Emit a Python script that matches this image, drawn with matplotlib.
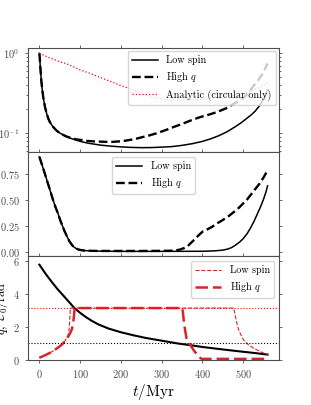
import matplotlib
matplotlib.use("Agg")
import matplotlib.pyplot as plt

plt.rcParams["font.family"] = "serif"
plt.rcParams["font.serif"] = ["cmr10", "DejaVu Serif"]
plt.rcParams["mathtext.fontset"] = "cm"
plt.rcParams["axes.formatter.use_mathtext"] = True
plt.rcParams["axes.edgecolor"] = "0.3"
plt.rcParams["xtick.color"] = "0.3"
plt.rcParams["ytick.color"] = "0.3"
plt.rcParams["xtick.labelcolor"] = "0.3"
plt.rcParams["ytick.labelcolor"] = "0.3"

RED = "#d62728"

# top panel: a / a0
t_low_a = [0, 1, 2, 3.5, 5, 7, 10, 14, 18, 22, 26, 32, 39, 45, 51, 59, 67, 78, 90,
           105, 120, 135, 150, 175, 200, 225, 250, 275, 300, 325, 350, 375, 400,
           420, 440, 460, 480, 495, 510, 520, 530, 540, 548, 555, 560]
a_low = [1.0, 0.85, 0.7, 0.55, 0.44, 0.35, 0.27, 0.21, 0.175, 0.152, 0.137, 0.123,
         0.112, 0.105, 0.1, 0.095, 0.09, 0.086, 0.082, 0.078, 0.075, 0.073, 0.071,
         0.069, 0.0675, 0.0665, 0.066, 0.0662, 0.067, 0.068, 0.0705, 0.074, 0.079,
         0.085, 0.093, 0.104, 0.12, 0.135, 0.155, 0.17, 0.19, 0.22, 0.255, 0.3, 0.35]
t_high_a = [0, 1, 2, 3.5, 5, 7, 10, 14, 18, 22, 26, 32, 39, 45, 51, 59, 67, 78, 90,
            105, 120, 135, 150, 165, 180, 195, 210, 225, 240, 255, 270, 285, 300,
            315, 330, 345, 360, 378, 396, 416, 437, 458, 478, 490, 502, 515, 527,
            537, 545, 553, 560]
a_high = [1.0, 0.85, 0.7, 0.55, 0.44, 0.35, 0.27, 0.21, 0.175, 0.152, 0.137, 0.123,
          0.112, 0.105, 0.1, 0.095, 0.091, 0.087, 0.084, 0.082, 0.08, 0.079, 0.0785,
          0.078, 0.078, 0.079, 0.0805, 0.083, 0.086, 0.09, 0.094, 0.099, 0.105,
          0.112, 0.12, 0.128, 0.137, 0.149, 0.16, 0.171, 0.185, 0.205, 0.235, 0.255,
          0.28, 0.33, 0.4, 0.46, 0.53, 0.63, 0.75]
t_analytic = [0, 10, 20, 30, 45, 56, 67, 83, 100, 125, 149, 175, 200, 231, 252, 273,
              295, 314, 338, 360, 396, 430, 460, 478, 500, 520, 544, 560]
a_analytic = [1.0, 0.95, 0.9, 0.86, 0.8, 0.77, 0.74, 0.68, 0.62, 0.56, 0.50, 0.445,
              0.395, 0.35, 0.315, 0.288, 0.272, 0.265, 0.26, 0.26, 0.265, 0.277,
              0.29, 0.30, 0.315, 0.34, 0.38, 0.43]

# middle panel: eccentricity
t_low_e = [0, 5, 10, 18, 26, 33, 40, 46, 51, 57, 62, 68, 73, 79, 84, 90, 95, 102,
           110, 130, 150, 200, 300, 400, 430, 450, 462, 472, 482, 492, 500, 510,
           519, 527, 535, 543, 550, 556, 560]
e_low = [0.92, 0.86, 0.80, 0.70, 0.60, 0.51, 0.43, 0.37, 0.31, 0.25, 0.20, 0.15,
         0.11, 0.075, 0.052, 0.036, 0.027, 0.02, 0.016, 0.012, 0.01, 0.008, 0.008,
         0.009, 0.013, 0.02, 0.03, 0.045, 0.07, 0.1, 0.13, 0.18, 0.24, 0.3, 0.37,
         0.44, 0.51, 0.58, 0.64]
t_high_e = [0, 5, 10, 18, 26, 33, 40, 46, 51, 57, 62, 68, 73, 79, 84, 90, 95, 102,
            110, 130, 150, 200, 250, 300, 330, 345, 355, 363, 372, 380, 390, 401,
            412, 424, 437, 450, 465, 478, 490, 500, 510, 519, 530, 540, 550, 560]
e_high = [0.92, 0.86, 0.80, 0.70, 0.60, 0.51, 0.43, 0.37, 0.31, 0.25, 0.20, 0.15,
          0.11, 0.075, 0.052, 0.036, 0.027, 0.02, 0.016, 0.013, 0.012, 0.012, 0.012,
          0.013, 0.015, 0.025, 0.04, 0.055, 0.09, 0.12, 0.16, 0.2, 0.22, 0.245,
          0.28, 0.31, 0.35, 0.39, 0.43, 0.47, 0.51, 0.555, 0.61, 0.66, 0.72, 0.79]

# bottom panel: q and E0
t_q = [0, 15, 30, 45, 60, 73, 86, 100, 115, 130, 145, 170, 200, 230, 260, 300,
       340, 370, 400, 450, 500, 530, 560]
q_vals = [5.76, 5.22, 4.73, 4.27, 3.86, 3.5, 3.14, 2.85, 2.58, 2.35, 2.15, 1.9, 1.68,
          1.5, 1.34, 1.17, 1.0, 0.9, 0.79, 0.64, 0.5, 0.42, 0.33]
t_E_low = [0, 15, 30, 45, 56, 63, 68, 71, 73, 74.5, 75.5, 76, 477, 479, 481, 485,
           489, 495, 501, 513, 526, 543, 560]
E_low = [0.14, 0.3, 0.49, 0.72, 0.95, 1.16, 1.38, 1.57, 1.9, 2.4, 2.9, 3.14159,
         3.14159, 2.9, 2.65, 2.2, 1.83, 1.5, 1.22, 0.92, 0.71, 0.5, 0.32]
t_E_high = [0, 15, 30, 45, 56, 67, 75, 80, 83, 85, 86.5, 351, 353, 355, 358, 361,
            366, 373, 380, 388, 396, 400, 560]
E_high = [0.14, 0.3, 0.49, 0.74, 0.95, 1.27, 1.6, 1.88, 2.3, 2.7, 3.14159, 3.14159,
          2.7, 2.24, 1.75, 1.33, 1.05, 0.81, 0.55, 0.3, 0.1, 0.07, 0.07]

fig, (ax1, ax2, ax3) = plt.subplots(3, 1, sharex=True, figsize=(3.11, 4.05), dpi=100)
fig.subplots_adjust(left=0.09, right=0.897, top=0.881, bottom=0.111, hspace=0)

ax1.plot(t_low_a, a_low, color="k", lw=1.1, label="Low spin")
ax1.plot(t_high_a, a_high, color="k", lw=1.7, ls="--", label="High $q$")
ax1.plot(t_analytic, a_analytic, color="red", lw=0.9, ls=":", label="Analytic (circular only)")
ax1.set_yscale("log")
ax1.set_ylim(0.058, 1.16)
ax1.set_ylabel("$a/a_0$", fontsize=9)
ax1.legend(loc="upper right", fontsize=7.3, handlelength=2.6, borderaxespad=0.3)

ax2.plot(t_low_e, e_low, color="k", lw=1.1, label="Low spin")
ax2.plot(t_high_e, e_high, color="k", lw=1.7, ls="--", label="High $q$")
ax2.set_ylabel("$e$", fontsize=9)
ax2.set_yticks([0, 0.25, 0.5, 0.75])
ax2.legend(loc="upper center", fontsize=7.3, handlelength=2.6)

ax3.plot(t_q, q_vals, color="k", lw=1.5)
ax3.plot(t_E_low, E_low, color=RED, lw=0.8, ls="--", label="Low spin")
ax3.plot(t_E_high, E_high, color=RED, lw=1.8, ls=(0, (5, 2)), label="High $q$")
ax3.axhline(3.14159, color="red", lw=0.8, ls=":")
ax3.axhline(1.0, color="k", lw=0.8, ls=":")
ax3.set_ylim(0, 6.28)
ax3.set_yticks([0, 2, 4, 6])
ax3.set_ylabel(r"$q;\ \mathcal{E}_0/\mathrm{rad}$", fontsize=9, labelpad=2)
ax3.set_xlabel(r"$t/\mathrm{Myr}$", fontsize=11, labelpad=1)
ax3.legend(loc="upper right", fontsize=7.3, handlelength=2.6)
ax3.set_xlim(-28, 588)
ax3.set_xticks([0, 100, 200, 300, 400, 500])

for ax in (ax1, ax2, ax3):
    ax.tick_params(which="both", top=True, right=True, labelsize=7.5, length=2.5, width=0.6)
    ax.tick_params(which="minor", length=1.5)

fig.savefig("out.png", dpi=100)
